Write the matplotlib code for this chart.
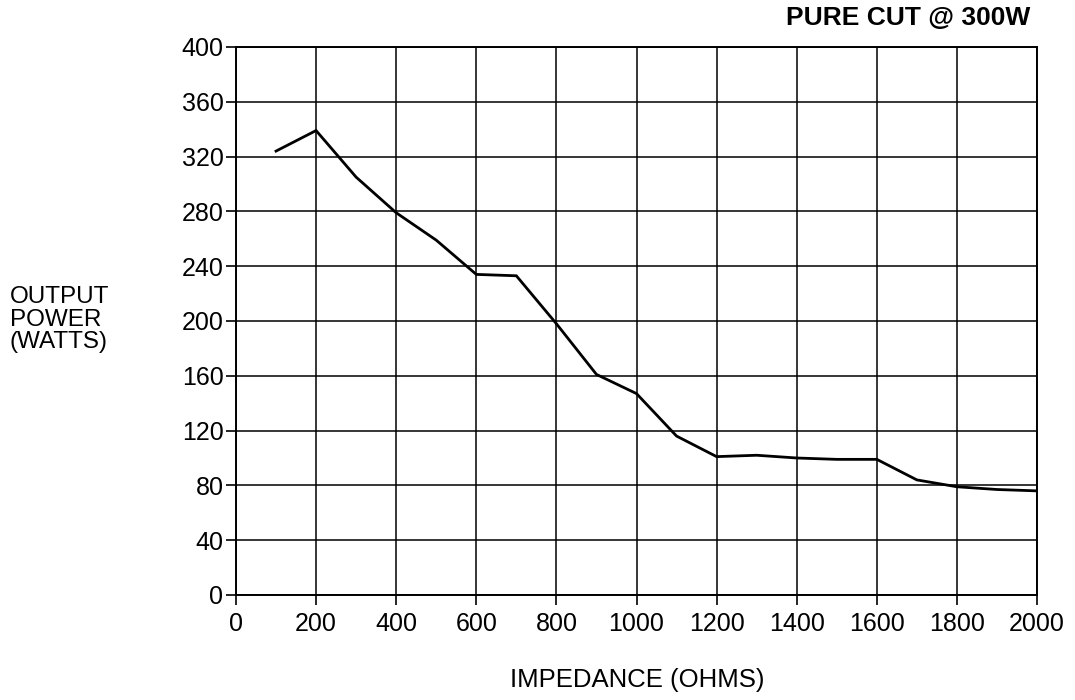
import matplotlib
matplotlib.use("Agg")
import matplotlib.pyplot as plt

# impedance (ohms) and output power (watts)
impedance = [100, 200, 300, 400, 500, 600, 700, 800, 900, 1000,
             1100, 1200, 1300, 1400, 1500, 1600, 1700, 1800, 1900, 2000]
power = [324, 339, 305, 279, 259, 234, 233, 198, 161, 147,
         116, 101, 102, 100, 99, 99, 84, 79, 77, 76]

x_ticks = list(range(0, 2001, 200))
y_ticks = list(range(0, 401, 40))

plt.rcParams['font.family'] = ['Liberation Sans', 'DejaVu Sans']

fig = plt.figure(figsize=(10.75, 7), dpi=100)
ax = fig.add_axes([0.2195, 0.15, 0.7452, 0.7829])

ax.plot(impedance, power, color='black', linewidth=2.0, solid_joinstyle='miter')

ax.set_xlim(0, 2000)
ax.set_ylim(0, 400)
ax.set_xticks(x_ticks)
ax.set_yticks(y_ticks)
ax.tick_params(axis='both', direction='out', length=7, width=1.2, color='black',
               labelsize=18, pad=2)
ax.tick_params(axis='x', pad=5)
ax.grid(True, color='black', linewidth=1.1)
for s in ax.spines.values():
    s.set_color('black')
    s.set_linewidth(1.4)

fig.text(0.5926, 0.029, 'IMPEDANCE (OHMS)', ha='center', va='center', fontsize=18.5)
fig.text(0.009, 0.543, 'OUTPUT\nPOWER\n(WATTS)', ha='left', va='center',
         fontsize=17.5, linespacing=1.03)
fig.text(0.958, 0.974, 'PURE CUT @ 300W', ha='right', va='center',
         fontsize=19, fontweight='bold')

fig.savefig('out.png', dpi=100)
